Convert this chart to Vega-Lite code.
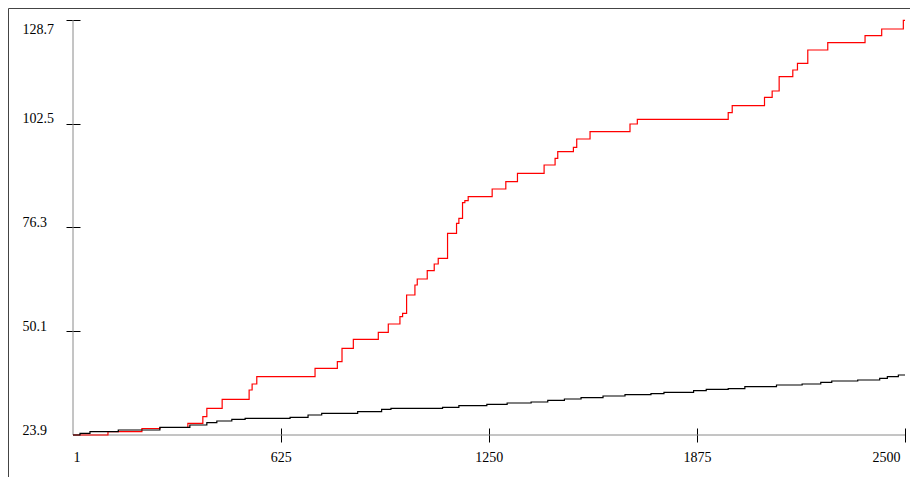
{
  "$schema": "https://vega.github.io/schema/vega-lite/v6.json",
  "width": 910,
  "height": 480,
  "autosize": {"type": "none"},
  "padding": {"left": 8, "top": 8, "right": 0, "bottom": 0},
  "background": "white",
  "config": {
    "view": {"stroke": "#444444", "strokeWidth": 1},
    "axis": {"labelFont": "Liberation Serif", "labelFontSize": 14, "labelColor": "black", "tickColor": "black", "tickWidth": 1, "grid": false, "domain": false, "title": null}
  },
  "datasets": {
    "series": [
      {"s": "A", "x": 1, "y": 23.9},
      {"s": "A", "x": 106, "y": 24.73},
      {"s": "A", "x": 208, "y": 25.54},
      {"s": "A", "x": 262, "y": 25.79},
      {"s": "A", "x": 346, "y": 26.85},
      {"s": "A", "x": 391, "y": 28.52},
      {"s": "A", "x": 403, "y": 30.64},
      {"s": "A", "x": 449, "y": 32.92},
      {"s": "A", "x": 530, "y": 35.26},
      {"s": "A", "x": 539, "y": 36.78},
      {"s": "A", "x": 553, "y": 38.62},
      {"s": "A", "x": 728, "y": 40.74},
      {"s": "A", "x": 795, "y": 42.41},
      {"s": "A", "x": 809, "y": 45.79},
      {"s": "A", "x": 843, "y": 48.07},
      {"s": "A", "x": 918, "y": 49.83},
      {"s": "A", "x": 948, "y": 51.93},
      {"s": "A", "x": 983, "y": 53.77},
      {"s": "A", "x": 991, "y": 54.63},
      {"s": "A", "x": 1003, "y": 59.25},
      {"s": "A", "x": 1028, "y": 61.78},
      {"s": "A", "x": 1035, "y": 63.29},
      {"s": "A", "x": 1065, "y": 65.39},
      {"s": "A", "x": 1086, "y": 67.08},
      {"s": "A", "x": 1098, "y": 68.52},
      {"s": "A", "x": 1126, "y": 74.83},
      {"s": "A", "x": 1153, "y": 77.36},
      {"s": "A", "x": 1160, "y": 78.62},
      {"s": "A", "x": 1171, "y": 82.56},
      {"s": "A", "x": 1178, "y": 83.07},
      {"s": "A", "x": 1188, "y": 84.08},
      {"s": "A", "x": 1260, "y": 86.02},
      {"s": "A", "x": 1301, "y": 87.87},
      {"s": "A", "x": 1336, "y": 89.99},
      {"s": "A", "x": 1416, "y": 92.08},
      {"s": "A", "x": 1449, "y": 93.77},
      {"s": "A", "x": 1457, "y": 95.44},
      {"s": "A", "x": 1504, "y": 96.55},
      {"s": "A", "x": 1514, "y": 98.65},
      {"s": "A", "x": 1554, "y": 100.49},
      {"s": "A", "x": 1674, "y": 102.44},
      {"s": "A", "x": 1696, "y": 103.62},
      {"s": "A", "x": 1969, "y": 105.29},
      {"s": "A", "x": 1981, "y": 107.06},
      {"s": "A", "x": 2078, "y": 109.18},
      {"s": "A", "x": 2101, "y": 110.77},
      {"s": "A", "x": 2122, "y": 114.38},
      {"s": "A", "x": 2163, "y": 116.07},
      {"s": "A", "x": 2177, "y": 117.76},
      {"s": "A", "x": 2208, "y": 121.12},
      {"s": "A", "x": 2268, "y": 122.97},
      {"s": "A", "x": 2380, "y": 124.73},
      {"s": "A", "x": 2430, "y": 126.43},
      {"s": "A", "x": 2495, "y": 128.6},
      {"s": "A", "x": 2500, "y": 128.6},
      {"s": "B", "x": 1, "y": 23.9},
      {"s": "B", "x": 22, "y": 24.33},
      {"s": "B", "x": 52, "y": 24.73},
      {"s": "B", "x": 137, "y": 25.16},
      {"s": "B", "x": 262, "y": 25.84},
      {"s": "B", "x": 352, "y": 26.43},
      {"s": "B", "x": 403, "y": 27.01},
      {"s": "B", "x": 433, "y": 27.44},
      {"s": "B", "x": 478, "y": 27.86},
      {"s": "B", "x": 518, "y": 28.12},
      {"s": "B", "x": 653, "y": 28.37},
      {"s": "B", "x": 707, "y": 28.95},
      {"s": "B", "x": 748, "y": 29.38},
      {"s": "B", "x": 856, "y": 29.78},
      {"s": "B", "x": 928, "y": 30.39},
      {"s": "B", "x": 956, "y": 30.64},
      {"s": "B", "x": 1111, "y": 30.89},
      {"s": "B", "x": 1160, "y": 31.3},
      {"s": "B", "x": 1244, "y": 31.65},
      {"s": "B", "x": 1305, "y": 31.98},
      {"s": "B", "x": 1377, "y": 32.23},
      {"s": "B", "x": 1427, "y": 32.66},
      {"s": "B", "x": 1477, "y": 32.99},
      {"s": "B", "x": 1527, "y": 33.32},
      {"s": "B", "x": 1593, "y": 33.75},
      {"s": "B", "x": 1659, "y": 34.08},
      {"s": "B", "x": 1737, "y": 34.33},
      {"s": "B", "x": 1776, "y": 34.68},
      {"s": "B", "x": 1865, "y": 35.09},
      {"s": "B", "x": 1903, "y": 35.44},
      {"s": "B", "x": 1969, "y": 35.59},
      {"s": "B", "x": 2019, "y": 36.1},
      {"s": "B", "x": 2114, "y": 36.53},
      {"s": "B", "x": 2191, "y": 36.78},
      {"s": "B", "x": 2247, "y": 37.21},
      {"s": "B", "x": 2280, "y": 37.54},
      {"s": "B", "x": 2358, "y": 37.79},
      {"s": "B", "x": 2424, "y": 38.22},
      {"s": "B", "x": 2447, "y": 38.62},
      {"s": "B", "x": 2480, "y": 39.05},
      {"s": "B", "x": 2500, "y": 39.05}
    ]
  },
  "layer": [
    {
      "data": {"values": [{}]},
      "mark": {"type": "rule", "color": "#8a8a8a", "strokeWidth": 1},
      "encoding": {
        "x": {"datum": 1, "type": "quantitative"},
        "y": {"datum": 23.9, "type": "quantitative"},
        "y2": {"datum": 128.7}
      }
    },
    {
      "data": {"values": [{}]},
      "mark": {"type": "rule", "color": "#8a8a8a", "strokeWidth": 1},
      "encoding": {
        "y": {"datum": 23.9, "type": "quantitative"},
        "x": {"datum": 1, "type": "quantitative"},
        "x2": {"datum": 2500}
      }
    },
    {
      "data": {"name": "series"},
      "mark": {"type": "line", "interpolate": "step-after", "strokeWidth": 1.2},
      "encoding": {
        "x": {
          "field": "x", "type": "quantitative", "title": null,
          "scale": {"domain": [1, 2500], "range": [65, 897], "nice": false, "zero": false},
          "axis": {
            "orient": "bottom", "offset": -60, "values": [1, 625, 1250, 1875, 2500], "format": "d",
            "tickSize": 14, "labelPadding": 8, "labelFlush": false,
            "tickOpacity": {"condition": {"test": "datum.value < 2", "value": 0}, "value": 1},
            "labelAlign": {"condition": {"test": "datum.value < 2", "value": "left"}, "value": "center"},
            "labelOffset": {"condition": {"test": "datum.value > 2499", "value": -19}, "value": 0}
          }
        },
        "y": {
          "field": "y", "type": "quantitative", "title": null,
          "scale": {"domain": [23.9, 128.7], "range": [427, 12], "nice": false, "zero": false},
          "axis": {
            "orient": "left", "offset": -72, "values": [23.9, 50.1, 76.3, 102.5, 128.7], "format": ".1f",
            "tickSize": 14, "labelPadding": 44, "labelAlign": "left", "labelFlush": false,
            "tickOpacity": {"condition": {"test": "datum.value < 24", "value": 0}, "value": 1},
            "labelBaseline": {"condition": {"test": "datum.value > 128", "value": "top"}, "value": "alphabetic"},
            "labelOffset": {"condition": {"test": "datum.value > 128", "value": 2}, "value": -1}
          }
        },
        "color": {"field": "s", "type": "nominal", "scale": {"domain": ["A", "B"], "range": ["#ff0000", "#000000"]}, "legend": null}
      }
    }
  ]
}
